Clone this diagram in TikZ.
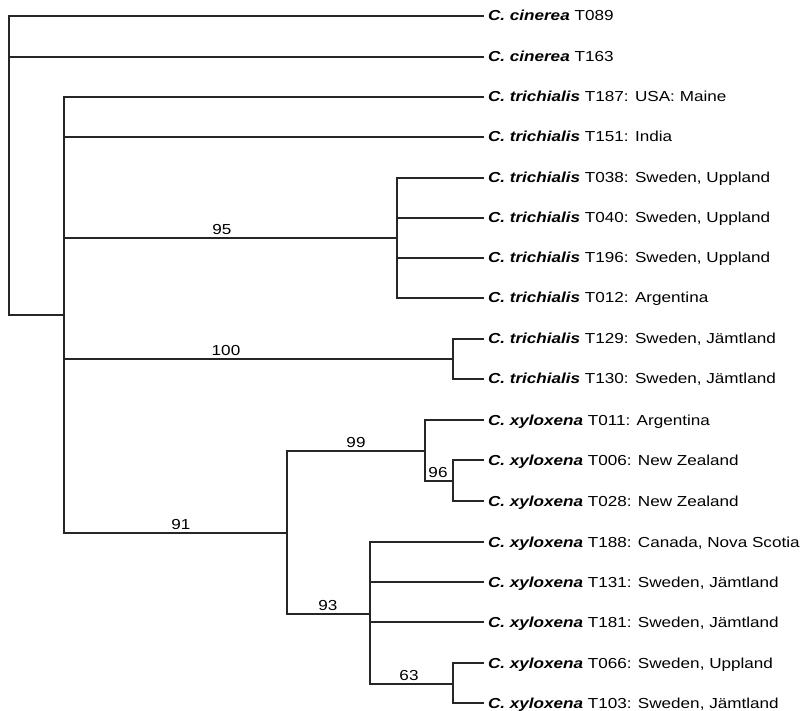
\documentclass[tikz,border=0pt]{standalone}
\usepackage{fontspec}
\setmainfont{Liberation Sans}[FakeStretch=1.18]
\newcommand{\spname}[1]{\textbf{\textit{C. #1}}}
\begin{document}
\begin{tikzpicture}[x=1pt,y=-1pt,
  branch/.style={line width=1.4pt,draw=black!85},
  leaf/.style={anchor=west,inner sep=0pt,outer sep=4pt,text height=10pt,text depth=0pt,font=\fontsize{14.5}{16}\selectfont},
  supp/.style={anchor=south,inner sep=3pt,font=\fontsize{14.5}{16}\selectfont}]
\useasboundingbox (0,0) rectangle (801,711);
% leaves
\node[leaf] (l1) at (484,16) {\spname{cinerea} T089};
\node[leaf] (l2) at (484,57) {\spname{cinerea} T163};
\node[leaf] (l3) at (484,97) {\spname{trichialis} T187: USA: Maine};
\node[leaf] (l4) at (484,137) {\spname{trichialis} T151: India};
\node[leaf] (l5) at (484,178) {\spname{trichialis} T038: Sweden, Uppland};
\node[leaf] (l6) at (484,218) {\spname{trichialis} T040: Sweden, Uppland};
\node[leaf] (l7) at (484,258) {\spname{trichialis} T196: Sweden, Uppland};
\node[leaf] (l8) at (484,298) {\spname{trichialis} T012: Argentina};
\node[leaf] (l9) at (484,339) {\spname{trichialis} T129: Sweden, Jämtland};
\node[leaf] (l10) at (484,379) {\spname{trichialis} T130: Sweden, Jämtland};
\node[leaf] (l11) at (484,420) {\spname{xyloxena} T011: Argentina};
\node[leaf] (l12) at (484,460) {\spname{xyloxena} T006: New Zealand};
\node[leaf] (l13) at (484,501) {\spname{xyloxena} T028: New Zealand};
\node[leaf] (l14) at (484,542) {\spname{xyloxena} T188: Canada, Nova Scotia};
\node[leaf] (l15) at (484,582) {\spname{xyloxena} T131: Sweden, Jämtland};
\node[leaf] (l16) at (484,622) {\spname{xyloxena} T181: Sweden, Jämtland};
\node[leaf] (l17) at (484,663) {\spname{xyloxena} T066: Sweden, Uppland};
\node[leaf] (l18) at (484,703) {\spname{xyloxena} T103: Sweden, Jämtland};
% internal nodes
\coordinate (root) at (9,165);
\coordinate (a) at (64,315);
\coordinate (c95) at (397,238);
\coordinate (c100) at (453,359);
\coordinate (c91) at (287,533);
\coordinate (c99) at (425,451);
\coordinate (c96) at (453,481);
\coordinate (c93) at (370,614);
\coordinate (c63) at (453,684);
% branches
\draw[branch] (root) |- (l1.west) (root) |- (l2.west) (root) |- (a);
\draw[branch] (a) |- (l3.west) (a) |- (l4.west) (a) |- (c95) (a) |- (c100) (a) |- (c91);
\draw[branch] (c95) |- (l5.west) (c95) |- (l6.west) (c95) |- (l7.west) (c95) |- (l8.west);
\draw[branch] (c100) |- (l9.west) (c100) |- (l10.west);
\draw[branch] (c91) |- (c99) (c91) |- (c93);
\draw[branch] (c99) |- (l11.west) (c99) |- (c96);
\draw[branch] (c96) |- (l12.west) (c96) |- (l13.west);
\draw[branch] (c93) |- (l14.west) (c93) |- (l15.west) (c93) |- (l16.west) (c93) |- (c63);
\draw[branch] (c63) |- (l17.west) (c63) |- (l18.west);
% support values
\node[supp] (s95) at (222,238) {95};
\node[supp] (s100) at (226,359) {100};
\node[supp] (s91) at (181,533) {91};
\node[supp] (s99) at (356,451) {99};
\node[supp] (s96) at (438,481) {96};
\node[supp] (s93) at (328,614) {93};
\node[supp] (s63) at (409,684) {63};
\end{tikzpicture}
\end{document}
